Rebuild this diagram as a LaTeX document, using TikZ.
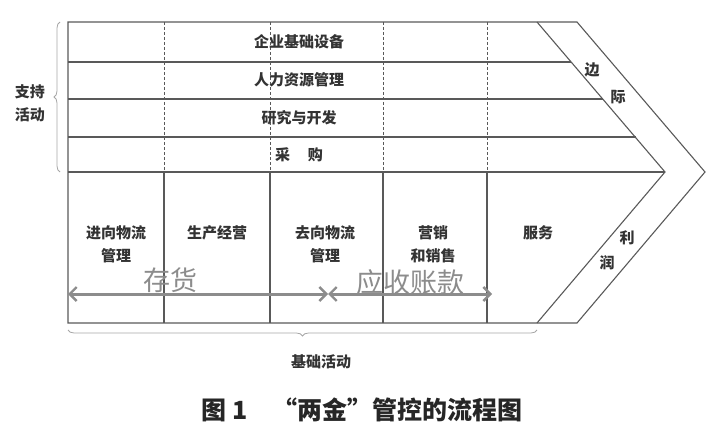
\documentclass[tikz,border=0pt]{standalone}
\usepackage{fontspec}
\setmainfont{Noto Sans CJK SC}
\usetikzlibrary{arrows.meta,decorations.pathreplacing}

\begin{document}
\begin{tikzpicture}[x=1pt, y=-1pt, >={Straight Barb[length=7pt, width=14pt, line width=2.4pt]},
	every node/.style={font=\fontsize{15}{23}\selectfont\bfseries, text=black!80, inner sep=0pt},
	frame/.style={draw=black!65, line width=1.1pt},
	sep/.style={draw=black!65, line width=0.9pt, dash pattern=on 3pt off 2pt},
	flow/.style={draw=black!45, line width=3pt, <->},
	money/.style={text=black!45, font=\fontsize{27}{29}\selectfont},
	brace/.style={draw=black!35, line width=0.8pt, decorate, decoration={brace, amplitude=6pt}}]
	\useasboundingbox (0,0) rectangle (713,428);
	\draw[frame] (68,22) -- (577,22) -- (705,172) -- (577,323) -- (68,323) -- cycle;
	\draw[frame] (537,22) -- (665,172) -- (537,323);
	\foreach \y/\e in {62/571, 99/603, 137/636, 172/665} {\draw[frame] (68,\y) -- (\e,\y);}
	\foreach \x in {164, 270, 383, 487} {\draw[sep] (\x,22) -- (\x,172); \draw[frame] (\x,172) -- (\x,323);}
	\node (infra) at (299,42) {企业基础设备};
	\node (hr) at (299,80) {人力资源管理};
	\node (rd) at (299,118) {研究与开发};
	\node (buy) at (299,155) {采\hspace{1.2em}购};
	\node[align=center] (inbound) at (116,244) {进向物流\\管理};
	\node (ops) at (217,233) {生产经营};
	\node[align=center] (outbound) at (325,244) {去向物流\\管理};
	\node[align=center] (sales) at (433,244) {营销\\和销售};
	\node (service) at (538,233) {服务};
	\node (bian) at (592,70) {边};
	\node (ji) at (618,97) {际};
	\node (li) at (627,238) {利};
	\node (run) at (607,263) {润};
	\node[align=center] (support) at (30,103) {支持\\活动};
	\node (primary) at (321,362) {基础活动};
	\draw[brace] (60,172) -- (60,22);
	\draw[brace] (537,330) -- (68,330);
	\coordinate (stockL) at (68,294);
	\coordinate (mid) at (328,294);
	\coordinate (recvR) at (492,294);
	\draw[flow] (stockL) -- (mid);
	\draw[flow] (mid) -- (recvR);
	\node[money] (stock) at (170,280) {存货};
	\node[money] (recv) at (410,282) {应收账款};
	\node[font=\fontsize{25}{28}\selectfont\bfseries, text=black!85] (caption) at (362,410) {图 1\hspace{1em}“两金”管控的流程图};
\end{tikzpicture}
\end{document}
